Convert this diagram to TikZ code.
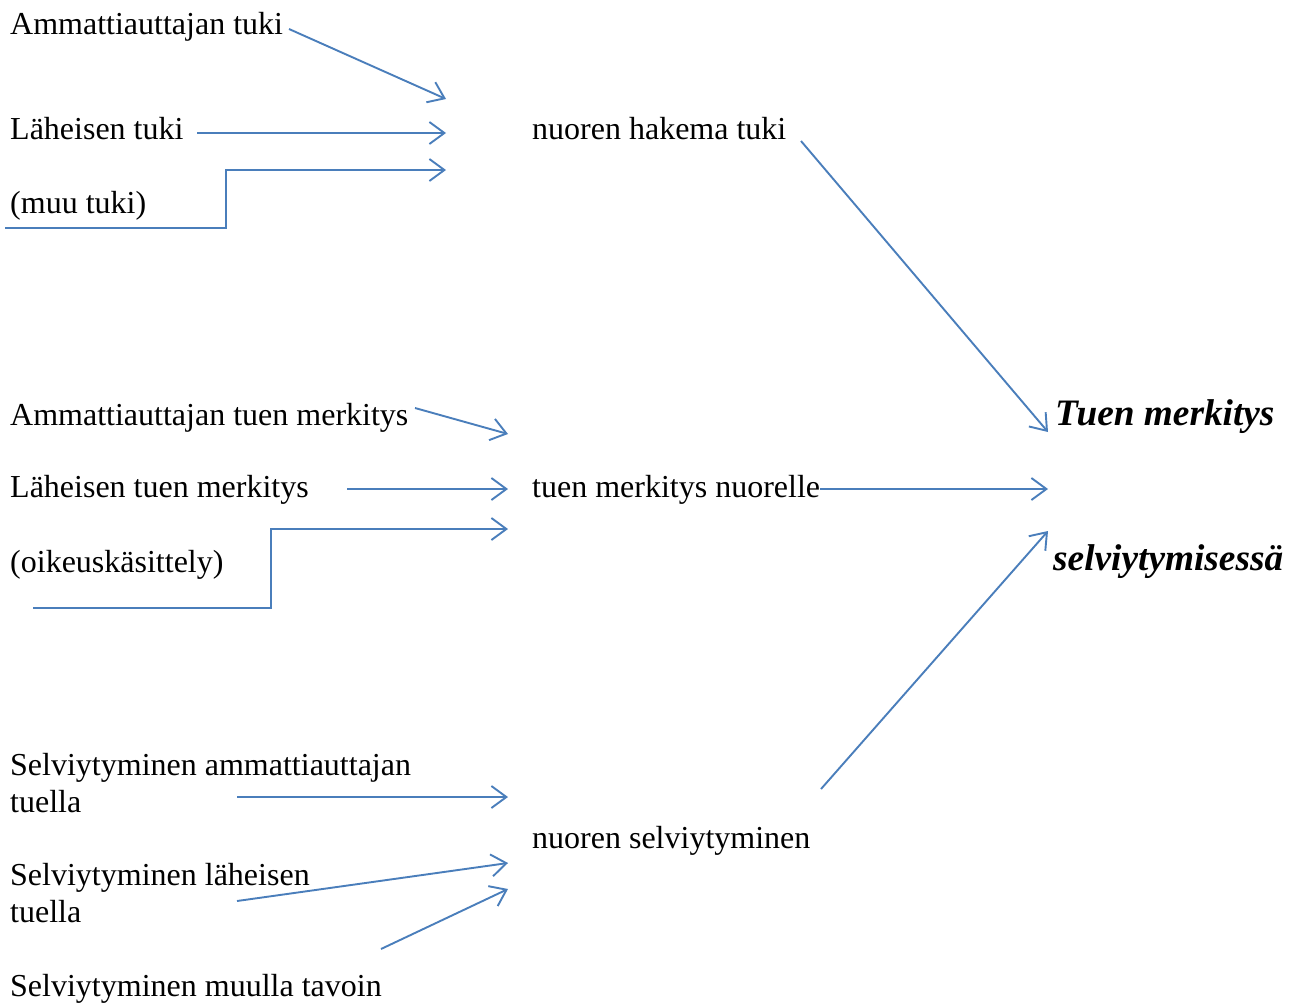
\documentclass[tikz,border=0pt]{standalone}
\usepackage{fontspec}
\setmainfont{Liberation Serif}
\usetikzlibrary{arrows.meta}
\definecolor{linkblue}{RGB}{74,126,187}
\tikzset{
  lbl/.style={inner sep=0pt,anchor=base west,align=left,font=\fontsize{32}{37}\selectfont},
  goal/.style={inner sep=0pt,anchor=base west,font=\fontsize{37.3}{43}\selectfont\bfseries\itshape},
  link/.style={draw=linkblue,line width=1.9pt,-{Straight Barb[length=15pt,width=22pt]}}
}
\begin{document}
\begin{tikzpicture}[x=1pt,y=-1pt]
  \useasboundingbox (0,0) rectangle (1297,1002);
  \node[lbl] (at1) at (10,34) {Ammattiauttajan tuki};
  \node[lbl] (lt1) at (10,139) {Läheisen tuki};
  \node[lbl] (mt1) at (10,213) {(muu tuki)};
  \node[lbl] (ht) at (532,139) {nuoren hakema tuki};
  \node[lbl] (at2) at (10,425) {Ammattiauttajan tuen merkitys};
  \node[lbl] (lt2) at (10,497) {Läheisen tuen merkitys};
  \node[lbl] (ok2) at (10,572) {(oikeuskäsittely)};
  \node[lbl] (tmn) at (532,497) {tuen merkitys nuorelle};
  \node[lbl] (sa3) at (10,812) {Selviytyminen ammattiauttajan\\tuella};
  \node[lbl] (sl3) at (10,922) {Selviytyminen läheisen\\tuella};
  \node[lbl] (sm3) at (10,996) {Selviytyminen muulla tavoin};
  \node[lbl] (ns) at (532,848) {nuoren selviytyminen};
  \node[goal] (tm) at (1055,425) {Tuen merkitys};
  \node[goal] (sv) at (1053,570) {selviytymisessä};
  \coordinate (at1s) at (289,29);
  \coordinate (lt1s) at (197,133);
  \coordinate (mt1s) at (5,228);
  \coordinate (ht1) at (446,99);
  \coordinate (ht2) at (446,133);
  \coordinate (ht3) at (446,170);
  \coordinate (at2s) at (415,408);
  \coordinate (lt2s) at (347,489);
  \coordinate (ok2s) at (33,608);
  \coordinate (tm1) at (508,434);
  \coordinate (tm2) at (508,489);
  \coordinate (tm3) at (508,529);
  \coordinate (sa3s) at (237,797);
  \coordinate (sl3s) at (237,901);
  \coordinate (sm3s) at (381,949);
  \coordinate (ns1) at (508,797);
  \coordinate (ns2) at (508,863);
  \coordinate (ns3) at (508,889);
  \coordinate (hts) at (801,141);
  \coordinate (nss) at (821,789);
  \coordinate (g1) at (1048,432);
  \coordinate (g2) at (1048,489);
  \coordinate (g3) at (1048,531);
  \draw[link] (at1s) -- (ht1);
  \draw[link] (lt1s) -- (ht2);
  \draw[link] (mt1s) -- ++(221,0) |- (ht3);
  \draw[link] (at2s) -- (tm1);
  \draw[link] (lt2s) -- (tm2);
  \draw[link] (ok2s) -- ++(238,0) |- (tm3);
  \draw[link] (sa3s) -- (ns1);
  \draw[link] (sl3s) -- (ns2);
  \draw[link] (sm3s) -- (ns3);
  \draw[link] (hts) -- (g1);
  \draw[link] (tmn.east |- g2) -- (g2);
  \draw[link] (nss) -- (g3);
\end{tikzpicture}
\end{document}
